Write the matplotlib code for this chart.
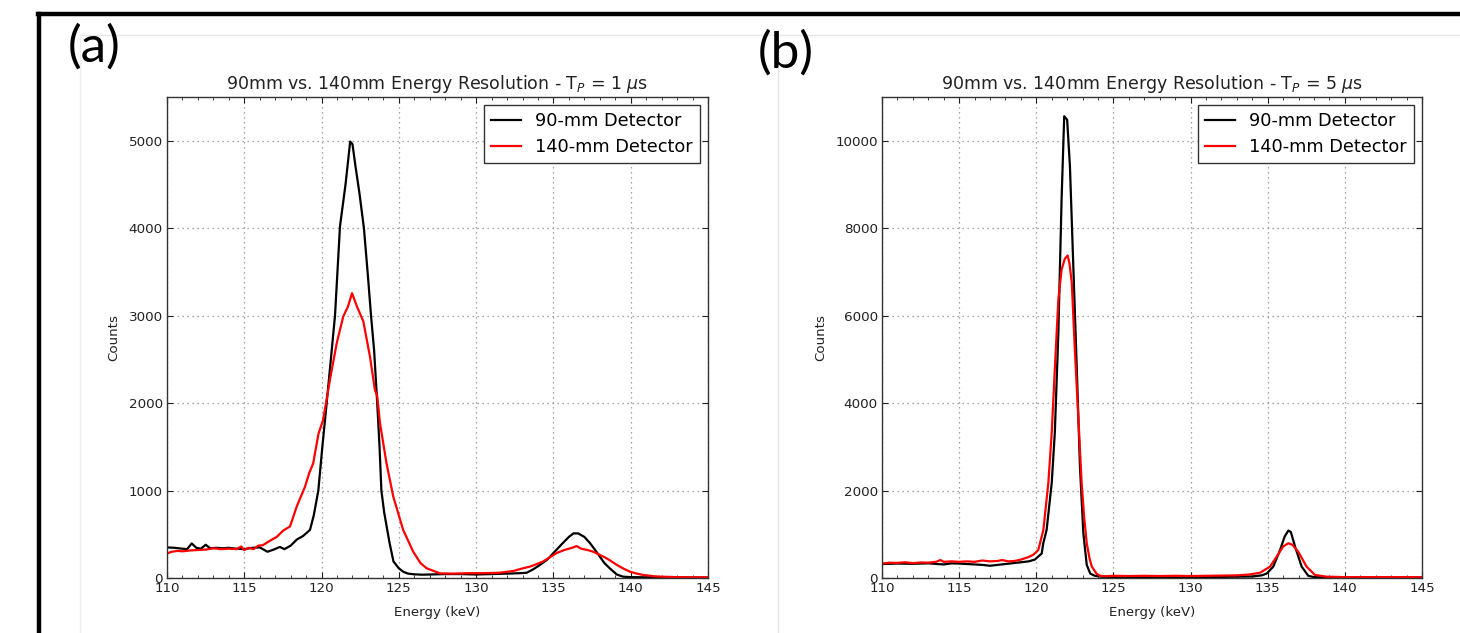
import matplotlib
matplotlib.use("Agg")
import matplotlib.pyplot as plt
from matplotlib.lines import Line2D
from matplotlib.ticker import MultipleLocator

# ---------------- data ----------------
# Panel (a): T_P = 1 us
a_black_E = [110.0, 110.5, 111.0, 111.3, 111.6, 111.9, 112.2, 112.5, 112.8, 113.2, 113.6, 114.0,
             114.5, 115.0, 115.5, 116.0, 116.5, 116.9, 117.3, 117.6, 118.0, 118.4, 118.8, 119.25,
             119.5, 119.79, 120.05, 120.33, 120.6, 120.87, 121.19, 121.55, 121.85, 122.0, 122.2,
             122.45, 122.74, 123.0, 123.2, 123.4, 123.6, 123.75, 123.87, 124.05, 124.2, 124.4,
             124.65, 125.0, 125.3, 125.6, 126.0, 126.5, 127.0, 128.0, 129.0, 130.0, 131.0, 132.0,
             132.8, 133.27, 133.7, 134.13, 134.6, 135.0, 135.5, 136.0, 136.3, 136.6, 137.0, 137.36,
             137.7, 138.0, 138.3, 138.65, 139.1, 139.5, 140.0, 141.0, 142.0, 143.0, 144.0, 145.0]
a_black_C = [350, 345, 335, 330, 395, 345, 335, 380, 340, 345, 340, 345,
             335, 330, 345, 350, 300, 325, 355, 330, 370, 440, 480, 550,
             720, 1000, 1500, 2000, 2500, 3000, 4020, 4500, 4990, 4960, 4700,
             4400, 4000, 3450, 3000, 2600, 2000, 1500, 1000, 750, 600, 400,
             190, 110, 70, 50, 42, 38, 40, 45, 45, 40, 45, 50,
             55, 60, 100, 150, 210, 285, 380, 470, 510, 510, 470, 400,
             320, 245, 170, 110, 40, 15, 10, 8, 8, 6, 5, 5]

a_red_E = [110.0, 110.3, 110.7, 111.0, 111.5, 112.0, 112.5, 113.0, 113.5, 114.0, 114.5, 114.8,
           115.0, 115.3, 115.6, 115.9, 116.2, 116.6, 117.1, 117.5, 117.96, 118.39, 118.93, 119.2,
           119.46, 119.8, 120.1, 120.54, 120.98, 121.4, 121.7, 121.97, 122.3, 122.7, 123.13, 123.45,
           123.6, 123.78, 124.2, 124.64, 125.28, 125.93, 126.4, 126.8, 127.66, 128.5, 129.5, 130.5,
           131.5, 132.4, 133.0, 133.48, 134.0, 134.34, 134.8, 135.2, 135.7, 136.2, 136.5, 136.8,
           137.2, 137.58, 138.0, 138.44, 138.8, 139.1, 139.5, 139.95, 140.4, 140.8, 141.5, 142.0,
           143.0, 144.0, 145.0]
a_red_C = [280, 300, 310, 305, 315, 320, 325, 340, 330, 335, 330, 360,
           320, 345, 330, 370, 375, 420, 470, 540, 590, 816, 1045, 1200,
           1312, 1650, 1808, 2265, 2685, 2990, 3100, 3257, 3100, 2935, 2532, 2151,
           2080, 1770, 1312, 930, 549, 300, 170, 111, 53, 50, 55, 55,
           60, 80, 110, 130, 165, 190, 240, 285, 320, 345, 365, 335,
           320, 300, 265, 225, 185, 150, 110, 72, 50, 35, 20, 15,
           10, 8, 8]

# Panel (b): T_P = 5 us
b_black_E = [110.0, 111.0, 112.0, 113.0, 114.0, 114.5, 115.0, 115.5, 116.0, 116.5, 117.0, 117.5,
             118.0, 118.5, 119.0, 119.5, 119.9, 120.35, 120.45, 120.67, 121.0, 121.2, 121.43,
             121.64, 121.81, 122.0, 122.18, 122.4, 122.62, 122.83, 123.05, 123.27, 123.5, 123.8,
             124.2, 125.0, 127.0, 130.0, 132.0, 134.0, 134.6, 134.93, 135.36, 135.8, 136.1,
             136.34, 136.5, 136.77, 137.2, 137.63, 138.0, 139.0, 140.0, 145.0]
b_black_C = [320, 330, 325, 335, 310, 335, 330, 320, 310, 300, 280, 300,
             320, 340, 360, 380, 420, 560, 790, 1100, 2170, 3315, 5600,
             8660, 10560, 10480, 9420, 7130, 4840, 2550, 1025, 300, 100, 50,
             30, 20, 20, 20, 25, 35, 60, 100, 260, 640, 950,
             1085, 1050, 720, 260, 50, 20, 15, 10, 10]

b_red_E = [110.0, 110.5, 111.0, 111.5, 112.0, 112.5, 113.0, 113.5, 113.8, 114.0, 114.5, 115.0,
           115.5, 116.0, 116.5, 117.0, 117.5, 117.8, 118.2, 118.6, 119.0, 119.5, 119.8, 120.13,
           120.46, 120.78, 121.0, 121.21, 121.43, 121.64, 121.85, 122.03, 122.15, 122.3, 122.5,
           122.72, 122.94, 123.1, 123.27, 123.45, 123.6, 123.9, 124.13, 124.5, 125.0, 126.0,
           127.0, 128.0, 129.0, 130.0, 131.0, 132.0, 133.0, 133.8, 134.5, 135.15, 135.58, 136.0,
           136.34, 136.6, 136.98, 137.52, 138.06, 138.8, 139.5, 140.0, 145.0]
b_red_C = [330, 350, 345, 360, 340, 355, 350, 370, 410, 370, 380, 370,
           380, 370, 400, 380, 390, 410, 380, 390, 420, 480, 530, 640,
           1100, 2170, 3315, 4840, 6367, 7054, 7300, 7375, 7200, 6750, 5220,
           3695, 2170, 1400, 795, 450, 260, 100, 50, 40, 50, 45,
           50, 45, 50, 45, 50, 55, 60, 80, 120, 260, 488, 720,
           795, 760, 600, 260, 70, 30, 25, 20, 20]

series_labels = ["90-mm Detector", "140-mm Detector"]
titles = [r"90mm vs. 140mm Energy Resolution - T$_P$ = 1 $\mu$s",
          r"90mm vs. 140mm Energy Resolution - T$_P$ = 5 $\mu$s"]
panel_tags = ["(a)", "(b)"]
x_label = "Energy (keV)"
y_label = "Counts"
xlims = (110, 145)
ylims = [(0, 5500), (0, 11000)]
yticks = [[0, 1000, 2000, 3000, 4000, 5000], [0, 2000, 4000, 6000, 8000, 10000]]
xticks = [110, 115, 120, 125, 130, 135, 140, 145]

# ---------------- style ----------------
plt.rcParams.update({
    "font.family": ["DejaVu Sans"],
    "mathtext.fontset": "dejavusans",
    "xtick.direction": "in",
    "ytick.direction": "in",
    "xtick.top": True,
    "ytick.right": True,
    "xtick.major.size": 4,
    "ytick.major.size": 4,
    "xtick.minor.size": 2,
    "xtick.color": "#222222",
    "ytick.color": "#222222",
})

W, H = 1460, 633
fig = plt.figure(figsize=(W / 100, H / 100), dpi=100)

axes_boxes = [(167 / W, 55 / H, 541 / W, 481 / H),
              (882 / W, 55 / H, 540 / W, 481 / H)]
data = [((a_black_E, a_black_C), (a_red_E, a_red_C)),
        ((b_black_E, b_black_C), (b_red_E, b_red_C))]
tag_pos = [(68 / W, 1 - 47 / H), (758 / W, 1 - 53 / H)]

for i in range(2):
    ax = fig.add_axes(axes_boxes[i])
    (bE, bC), (rE, rC) = data[i]
    ax.plot(bE, bC, color="black", lw=1.6, label=series_labels[0])
    ax.plot(rE, rC, color="red", lw=1.6, label=series_labels[1])
    ax.set_xlim(*xlims)
    ax.set_ylim(*ylims[i])
    ax.set_xticks(xticks)
    ax.set_yticks(yticks[i])
    ax.xaxis.set_minor_locator(MultipleLocator(1))
    ax.tick_params(labelsize=9.7, pad=3)
    ax.grid(True, which="major", linestyle=(0, (1, 3)), color="#888888", lw=0.9)
    for s in ax.spines.values():
        s.set_color("#333333")
        s.set_linewidth(1.0)
    ax.set_title(titles[i], fontsize=12.5, color="#222222", pad=6)
    ax.set_xlabel(x_label, fontsize=9.6, color="#222222", labelpad=8)
    ax.set_ylabel(y_label, fontsize=9.6, color="#222222", labelpad=6)
    leg = ax.legend(loc="upper right", fontsize=12.8, fancybox=False, framealpha=1,
                    edgecolor="#333333", handlelength=1.7, borderaxespad=0.45,
                    labelspacing=0.45)
    leg.get_frame().set_linewidth(1.0)
    fig.text(tag_pos[i][0], tag_pos[i][1], panel_tags[i], fontsize=37,
             family=["Lato", "DejaVu Sans"], color="black", va="center", ha="left")

# faint frame lines of the original pasted images
fig.add_artist(Line2D([80 / W, 1], [1 - 35 / H, 1 - 35 / H], color="#e6e6e6", lw=1))
fig.add_artist(Line2D([80 / W, 80 / W], [0, 1 - 35 / H], color="#eeeeee", lw=1))
fig.add_artist(Line2D([778 / W, 778 / W], [0, 1 - 35 / H], color="#e6e6e6", lw=1))
# thick black border (top and left)
fig.add_artist(Line2D([38 / W, 1], [1 - 14 / H, 1 - 14 / H], color="black", lw=3.2,
                      solid_capstyle="projecting"))
fig.add_artist(Line2D([39 / W, 39 / W], [0, 1 - 14 / H], color="black", lw=3.2,
                      solid_capstyle="projecting"))

fig.savefig("out.png", dpi=100)
